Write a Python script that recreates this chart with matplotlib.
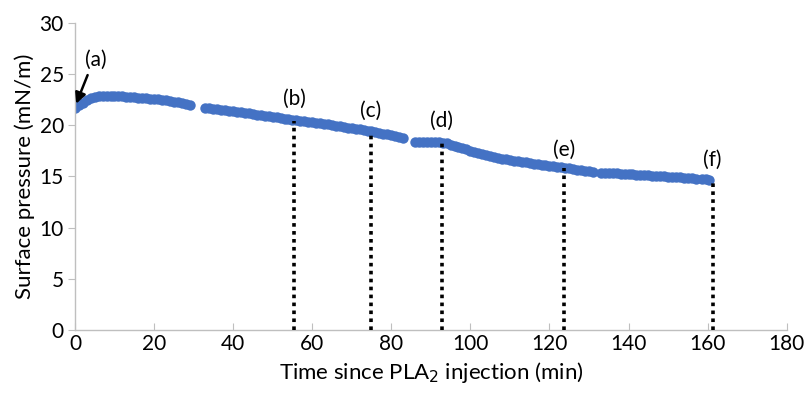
import numpy as np
import matplotlib.pyplot as plt

plt.rcParams['font.family'] = ['Lato', 'DejaVu Sans']

# surface pressure, one point per minute (gaps are in the original)
t_seg1 = list(range(0, 30))
p_seg1 = [21.7, 22.0, 22.2, 22.45, 22.65, 22.8, 22.85, 22.9, 22.9, 22.9,
          22.88, 22.85, 22.82, 22.8, 22.77, 22.73, 22.7, 22.67, 22.63, 22.6,
          22.56, 22.52, 22.47, 22.42, 22.37, 22.3, 22.23, 22.15, 22.07, 22.0]

t_seg2 = list(range(33, 84))
p_seg2 = [21.72, 21.67, 21.62, 21.57, 21.52, 21.47, 21.42, 21.37, 21.32, 21.27,
          21.22, 21.17, 21.07, 21.02, 20.97, 20.92, 20.87, 20.82, 20.77, 20.72,
          20.62, 20.57, 20.52, 20.47, 20.42, 20.37, 20.32, 20.27, 20.22, 20.17,
          20.12, 20.07, 20.02, 19.97, 19.92, 19.87, 19.77, 19.72, 19.67, 19.62,
          19.57, 19.47, 19.42, 19.37, 19.27, 19.17, 19.12, 19.02, 18.97, 18.87,
          18.77]

t_seg3 = list(range(86, 132))
p_seg3 = [18.4, 18.4, 18.4, 18.4, 18.4, 18.35, 18.35, 18.3, 18.25, 18.1,
          18.0, 17.85, 17.75, 17.65, 17.5, 17.38, 17.28, 17.18, 17.08, 16.98,
          16.92, 16.82, 16.72, 16.67, 16.57, 16.52, 16.47, 16.42, 16.37, 16.32,
          16.22, 16.17, 16.12, 16.07, 16.02, 15.97, 15.92, 15.87, 15.82, 15.77,
          15.72, 15.67, 15.62, 15.57, 15.52, 15.47]

t_seg4 = list(range(133, 158))
p_seg4 = [15.36, 15.36, 15.31, 15.31, 15.31, 15.26, 15.26, 15.21, 15.21, 15.16,
          15.16, 15.11, 15.11, 15.06, 15.06, 15.01, 15.01, 14.96, 14.96, 14.91,
          14.91, 14.86, 14.81, 14.81, 14.76]

t_seg5 = [158.5, 159.5, 160.3]
p_seg5 = [14.7, 14.7, 14.65]

# sampling instants marked (b)-(f)
mark_t = [55.5, 74.8, 92.8, 123.8, 161.3]
mark_p = [20.45, 19.35, 18.3, 15.8, 14.65]
mark_lbl = ['(b)', '(c)', '(d)', '(e)', '(f)']
lbl_y = [21.6, 20.4, 19.4, 16.6, 15.6]

t_all = t_seg1 + t_seg2 + t_seg3 + t_seg4 + t_seg5
p_all = p_seg1 + p_seg2 + p_seg3 + p_seg4 + p_seg5

fig = plt.figure(figsize=(8.06, 3.95), dpi=100)
ax = fig.add_axes([0.093, 0.165, 0.883, 0.777])

ax.plot(t_all, p_all, 'o', color='#4472C4', markersize=7.5, markeredgewidth=0, zorder=2)

for tx, py, lb, ly in zip(mark_t, mark_p, mark_lbl, lbl_y):
    ax.plot([tx, tx], [0, py], color='black', linestyle=(0, (1, 1.2)), linewidth=2.6, zorder=3)
    ax.text(tx, ly, lb, ha='center', va='bottom', fontsize=15)

ax.text(5.2, 25.4, '(a)', ha='center', va='bottom', fontsize=15)
ax.annotate('', xy=(0.3, 22.1), xytext=(3.2, 24.9),
            arrowprops=dict(arrowstyle='-|>', color='black', lw=1.8, mutation_scale=16,
                            shrinkA=0, shrinkB=0))

ax.set_xlim(0, 180)
ax.set_ylim(0, 30)
ax.set_xticks(np.arange(0, 181, 20))
ax.set_yticks(np.arange(0, 31, 5))
ax.set_xlabel('Time since PLA$_2$ injection (min)', fontsize=16, labelpad=4)
ax.set_ylabel('Surface pressure (mN/m)', fontsize=16, labelpad=3)

for s in ['top', 'right']:
    ax.spines[s].set_visible(False)
for s in ['left', 'bottom']:
    ax.spines[s].set_color('#BFBFBF')
    ax.spines[s].set_linewidth(1.0)
ax.tick_params(axis='x', direction='in', length=5, color='#BFBFBF', labelsize=15, pad=3)
ax.tick_params(axis='y', direction='out', length=5, color='#BFBFBF', labelsize=15, pad=3)

fig.savefig('out.png', dpi=100)
